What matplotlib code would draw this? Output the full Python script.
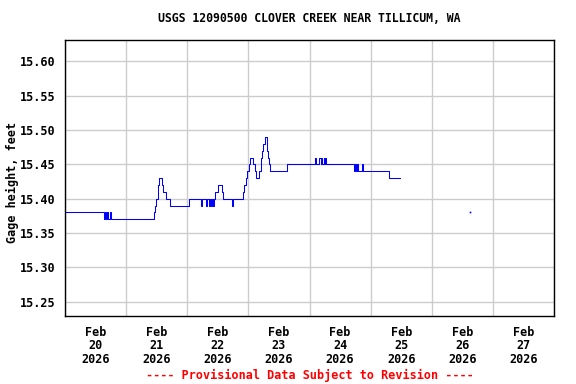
import pandas as pd
import matplotlib
matplotlib.use("Agg")
import matplotlib.pyplot as plt
import matplotlib.dates as mdates
from matplotlib.ticker import FormatStrFormatter

plt.rcParams['font.family'] = ['DejaVu Sans Mono']
plt.rcParams['font.weight'] = 'bold'

# Gage height readings (step changes), feet
times = [
    "2026-02-20 00:00", "2026-02-20 15:20", "2026-02-20 15:40", "2026-02-20 16:05",
    "2026-02-20 16:30", "2026-02-20 16:55", "2026-02-20 17:40", "2026-02-20 18:05",
    "2026-02-21 11:05", "2026-02-21 11:30", "2026-02-21 11:55", "2026-02-21 12:20",
    "2026-02-21 12:35", "2026-02-21 12:55", "2026-02-21 14:05", "2026-02-21 14:30",
    "2026-02-21 15:40", "2026-02-21 17:10", "2026-02-22 00:40", "2026-02-22 05:20",
    "2026-02-22 05:40", "2026-02-22 07:25", "2026-02-22 07:50", "2026-02-22 08:25",
    "2026-02-22 08:50", "2026-02-22 09:10", "2026-02-22 09:35", "2026-02-22 09:55",
    "2026-02-22 10:20", "2026-02-22 10:55", "2026-02-22 12:00", "2026-02-22 13:30",
    "2026-02-22 14:10", "2026-02-22 17:30", "2026-02-22 18:05", "2026-02-22 21:50",
    "2026-02-22 22:20", "2026-02-22 23:00", "2026-02-22 23:35", "2026-02-23 00:20",
    "2026-02-23 00:50", "2026-02-23 02:00", "2026-02-23 02:25", "2026-02-23 02:50",
    "2026-02-23 04:20", "2026-02-23 04:55", "2026-02-23 05:05", "2026-02-23 05:30",
    "2026-02-23 05:55", "2026-02-23 06:20", "2026-02-23 07:10", "2026-02-23 07:25",
    "2026-02-23 07:35", "2026-02-23 08:00", "2026-02-23 08:35", "2026-02-23 15:10",
    "2026-02-24 02:10", "2026-02-24 02:35", "2026-02-24 03:55", "2026-02-24 04:20",
    "2026-02-24 04:40", "2026-02-24 05:05", "2026-02-24 05:30", "2026-02-24 05:50",
    "2026-02-24 06:10", "2026-02-24 06:35", "2026-02-24 17:30", "2026-02-24 18:00",
    "2026-02-24 18:25", "2026-02-24 18:50", "2026-02-24 19:10", "2026-02-24 20:40",
    "2026-02-24 21:00", "2026-02-25 07:20", "2026-02-25 11:35",
]
heights = [
    15.38, 15.37, 15.38, 15.37,
    15.38, 15.37, 15.38, 15.37,
    15.38, 15.39, 15.40, 15.41,
    15.42, 15.43, 15.42, 15.41,
    15.40, 15.39, 15.40, 15.39,
    15.40, 15.39, 15.40, 15.39,
    15.40, 15.39, 15.40, 15.39,
    15.40, 15.41, 15.42, 15.41,
    15.40, 15.39, 15.40, 15.41,
    15.42, 15.43, 15.44, 15.45,
    15.46, 15.45, 15.44, 15.43,
    15.44, 15.45, 15.46, 15.47,
    15.48, 15.49, 15.48, 15.47,
    15.46, 15.45, 15.44, 15.45,
    15.46, 15.45, 15.46, 15.45,
    15.46, 15.45, 15.46, 15.45,
    15.46, 15.45, 15.44, 15.45,
    15.44, 15.45, 15.44, 15.45,
    15.44, 15.43, 15.43,
]

# isolated reading
dot_times = ["2026-02-26 14:50"]
dot_heights = [15.38]

yticks = [15.25, 15.30, 15.35, 15.40, 15.45, 15.50, 15.55, 15.60]

t = pd.to_datetime(times)
td = pd.to_datetime(dot_times)

fig = plt.figure(figsize=(5.76, 3.84), dpi=100)
ax = fig.add_axes([65 / 576, 1 - 316 / 384, 489 / 576, 276.5 / 384])

ax.plot(t, heights, drawstyle='steps-post', color='#0000ff', linewidth=0.75)
ax.plot(td, dot_heights, linestyle='none', marker='s', markersize=1.2,
        color='#0000ff', markeredgewidth=0)

ax.set_xlim(pd.Timestamp("2026-02-20"), pd.Timestamp("2026-02-28"))
ax.set_ylim(15.229, 15.632)

ax.xaxis.set_major_locator(mdates.HourLocator(byhour=12))
ax.xaxis.set_major_formatter(mdates.DateFormatter('%b\n%d\n%Y'))
ax.xaxis.set_minor_locator(mdates.DayLocator())
ax.set_yticks(yticks)
ax.yaxis.set_major_formatter(FormatStrFormatter('%.2f'))

ax.grid(True, which='minor', axis='x', color='#cccccc', linewidth=1)
ax.grid(True, which='major', axis='y', color='#cccccc', linewidth=1)
ax.set_axisbelow(True)

ax.tick_params(which='both', length=0)
ax.tick_params(axis='x', pad=7, labelsize=8.5)
ax.tick_params(axis='y', pad=7, labelsize=8.5)
for lbl in ax.get_xticklabels():
    lbl.set_linespacing(1.05)
for sp in ax.spines.values():
    sp.set_linewidth(1)
    sp.set_color('black')

fig.text(12 / 576, 1 - 182 / 384, 'Gage height, feet', rotation=90,
         ha='center', va='center', fontsize=8.5)

fig.text(309.5 / 576, 1 - 19 / 384, 'USGS 12090500 CLOVER CREEK NEAR TILLICUM, WA',
         ha='center', va='center', fontsize=8.3)
fig.text(309.5 / 576, 1 - 375 / 384, '---- Provisional Data Subject to Revision ----',
         ha='center', va='center', fontsize=8.5, color='red')

fig.savefig('out.png', dpi=100)
